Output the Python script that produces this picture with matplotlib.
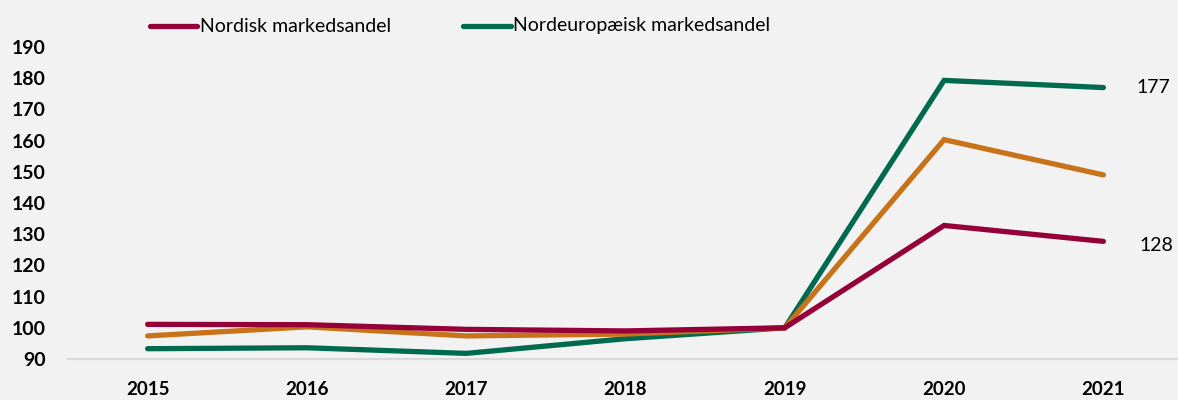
import matplotlib
matplotlib.use("Agg")
import matplotlib.pyplot as plt
from matplotlib.lines import Line2D

years = ["2015", "2016", "2017", "2018", "2019", "2020", "2021"]
nordisk = [101.1, 101.0, 99.5, 99.0, 100.0, 132.8, 127.7]
nordeuropa = [93.3, 93.6, 91.8, 96.5, 100.0, 179.3, 177.0]
orange_series = [97.4, 100.3, 97.4, 98.0, 100.0, 160.3, 149.0]
yticks = [90, 100, 110, 120, 130, 140, 150, 160, 170, 180, 190]
legend_labels = ["Nordisk markedsandel", "Nordeuropæisk markedsandel"]

c_nord = "#960039"
c_green = "#006a4e"
c_orange = "#c8731a"
bg = "#f2f2f2"

plt.rcParams['font.family'] = ['Lato', 'DejaVu Sans']

fig = plt.figure(figsize=(11.78, 4.0), dpi=100, facecolor=bg)
ax = fig.add_axes([68/1178, 41/400, (1183-68)/1178, (359-47)/400])
ax.set_facecolor(bg)

x = list(range(len(years)))
lw = 3.8
ax.plot(x, nordisk, color=c_nord, lw=lw, solid_capstyle='round', solid_joinstyle='miter', zorder=3)
ax.plot(x, orange_series, color=c_orange, lw=lw, solid_capstyle='round', solid_joinstyle='miter', zorder=2)
ax.plot(x, nordeuropa, color=c_green, lw=lw, solid_capstyle='round', solid_joinstyle='miter', zorder=1)

ax.set_xlim(-0.5, len(years) - 0.5)
ax.set_ylim(90, 190)
ax.set_xticks(x)
ax.set_xticklabels(years, fontsize=13.5, fontweight='bold')
ax.set_yticks(yticks)
ax.set_yticklabels([str(v) for v in yticks], fontsize=14, fontweight='bold')
ax.tick_params(axis='both', length=0)
ax.tick_params(axis='y', pad=16)
ax.tick_params(axis='x', pad=16)
for s in ['top', 'right', 'left']:
    ax.spines[s].set_visible(False)
ax.spines['bottom'].set_color('#d9d9d9')
ax.spines['bottom'].set_linewidth(1.5)

ax.annotate(f"{nordeuropa[-1]:.0f}", xy=(x[-1], nordeuropa[-1]), xytext=(24, 0),
            textcoords='offset points', va='center', ha='left', fontsize=14)
ax.annotate(f"{nordisk[-1]:.0f}", xy=(x[-1], nordisk[-1]), xytext=(26, -3),
            textcoords='offset points', va='center', ha='left', fontsize=14)

# legend
ly = 1 - 26/400
for (x0, x1, tx, col, lab) in [(150, 197, 200, c_nord, legend_labels[0]),
                                (463, 511, 513, c_green, legend_labels[1])]:
    fig.add_artist(Line2D([x0/1178, x1/1178], [ly, ly], color=col, lw=lw,
                          solid_capstyle='round', transform=fig.transFigure))
    fig.text(tx/1178, ly, lab, fontsize=14, va='center', ha='left')

fig.savefig("out.png", dpi=100, facecolor=bg)
